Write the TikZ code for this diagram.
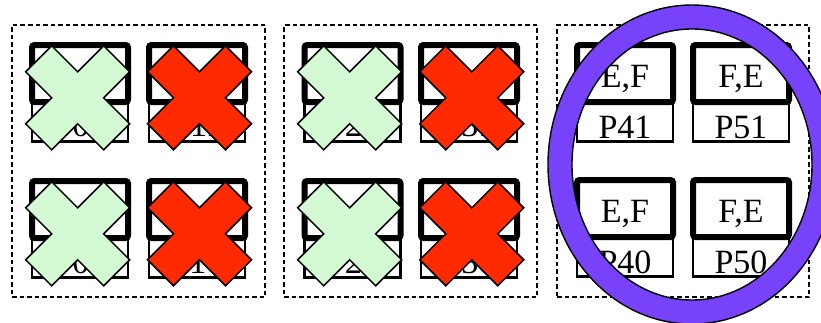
\documentclass[tikz,border=0pt]{standalone}
\usepackage{fontspec}
\setmainfont{Liberation Serif}
\definecolor{crossgreen}{RGB}{212,250,212}
\definecolor{crossred}{RGB}{255,42,0}
\definecolor{ringpurple}{RGB}{120,66,250}
\tikzset{
  groupbox/.style={draw, dash pattern=on 4.5pt off 3pt, line width=2pt, inner sep=0, minimum height=272pt},
  topbox/.style={draw, line width=6pt, rounded corners=2.5pt, minimum width=96pt, minimum height=57pt, inner sep=0, fill=white},
  labbox/.style={draw, line width=2.2pt, minimum width=96pt, minimum height=39pt, inner sep=0},
  txt/.style={anchor=base, font=\fontsize{34}{34}\selectfont, inner sep=0},
  xcross/.pic={\path[pic actions] (0,-26) -- (26,-52) -- (52,-26) -- (26,0) -- (52,26) -- (26,52) -- (0,26) -- (-26,52) -- (-52,26) -- (-26,0) -- (-52,-26) -- (-26,-52) -- cycle;}
}
\begin{document}
\begin{tikzpicture}[x=1pt,y=-1pt]
\useasboundingbox (0,0) rectangle (821,322);
\clip (0,0) rectangle (821,322);
% dashed groups
\node[groupbox, minimum width=253pt] (g1) at (138.5,161) {};
\node[groupbox, minimum width=253pt] (g2) at (410.5,161) {};
\node[groupbox, minimum width=252pt] (g3) at (683,161) {};
% crossed cells
\foreach \x/\n/\col/\sh in {80/0/crossgreen/-2.3, 197/1/crossred/2.5, 352.5/2/crossgreen/-2.8, 469/3/crossred/2.8} {
  \foreach \y/\r in {0/1, 136/0} {
    \node[labbox] (l\n\r) at (\x,122+\y) {};
    \node[topbox] (t\n\r) at (\x,73.5+\y) {};
    \node[txt] (p\n\r) at (\x,137.5+\y-\r) {P\n\r};
    \pic[fill=\col, draw=black, line width=1.5pt] at (\x+\sh,97.8+\y) {xcross};
  }
}
% visible cells
\foreach \x/\n/\s in {625/4/{E,F}, 741/5/{F,E}} {
  \foreach \y/\r in {0/1, 135/0} {
    \node[labbox] (l\n\r) at (\x,122+\y) {};
    \node[topbox] (t\n\r) at (\x,73.5+\y) {};
    \node[txt] (e\n\r) at (\x,87.5+\y) {\s};
    \node[txt] (p\n\r) at (\x,138+\y) {P\n\r};
  }
}
% ring
\draw[line width=1.4pt, fill=ringpurple, even odd rule]
  (692,164.5) ellipse [x radius=144, y radius=159.5]
  (692,164.5) ellipse [x radius=120, y radius=135.5];
\end{tikzpicture}
\end{document}
